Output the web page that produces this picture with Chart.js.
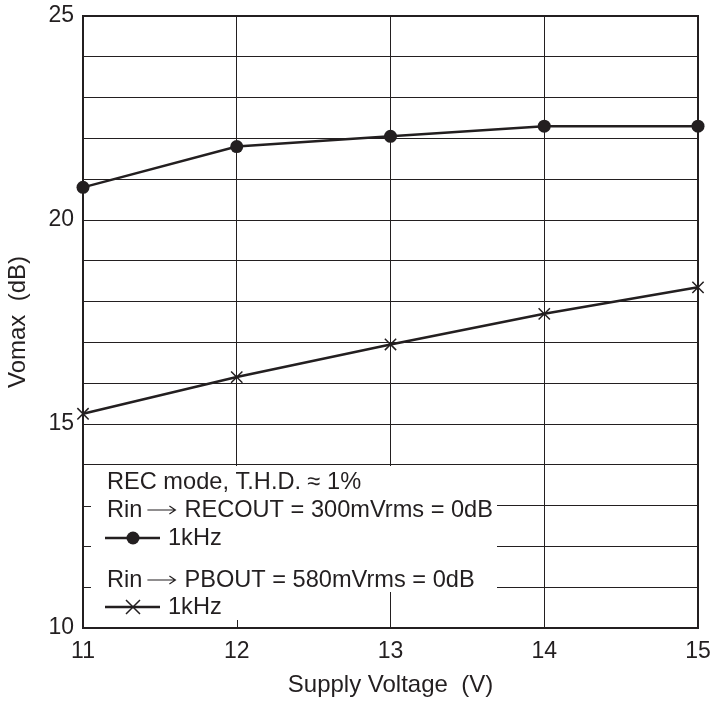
<!DOCTYPE html>
<html>
<head>
<meta charset="utf-8">
<script src="https://cdn.jsdelivr.net/npm/chart.js@4"></script>
<style>
  html, body { margin: 0; padding: 0; background: #fff; }
  #wrap { width: 711px; height: 704px; }
</style>
</head>
<body>
<div id="wrap"><canvas id="chart" width="711" height="704"></canvas></div>
<script>
// Supply voltage (V)
const voltages = [11, 12, 13, 14, 15];
// Rin -> RECOUT, 1kHz (dB)
const recout = [20.8, 21.8, 22.05, 22.3, 22.3];
// Rin -> PBOUT, 1kHz (dB)
const pbout = [15.25, 16.15, 16.95, 17.7, 18.35];
const yLabels = [10, 15, 20, 25];
const noteTitle = 'REC mode, T.H.D. \u2248 1%';
const noteRec = ['Rin', 'RECOUT = 300mVrms = 0dB'];
const notePb = ['Rin', 'PBOUT = 580mVrms = 0dB'];
const noteFreq = '1kHz';

const FONT = '"Liberation Sans", Arial, Helvetica, sans-serif';
const INK = '#231f20';

function toPoints(values) {
    return voltages.map((v, i) => ({ x: v, y: values[i] }));
}

// "Rin -> ..." with a drawn arrow
function arrowLine(ctx, parts, x, y) {
    ctx.fillText(parts[0], x, y);
    const a0 = x + ctx.measureText(parts[0]).width + 5;
    const a1 = a0 + 28;
    ctx.lineWidth = 1.2;
    ctx.beginPath();
    ctx.moveTo(a0, y);
    ctx.lineTo(a1, y);
    ctx.moveTo(a1 - 6, y - 4);
    ctx.lineTo(a1, y);
    ctx.lineTo(a1 - 6, y + 4);
    ctx.stroke();
    ctx.fillText(parts[1], a1 + 9, y);
}

// Frame and the boxed note in the lower left corner
const notePlugin = {
    id: 'note',
    afterDraw(chart) {
        const { ctx, chartArea: a, scales: { x, y } } = chart;
        ctx.save();

        // white box hiding the grid under the note
        const top = Math.round(y.getPixelForValue(14)) + 1;
        const mid = Math.round(y.getPixelForValue(11)) + 5;
        ctx.fillStyle = '#fff';
        ctx.fillRect(a.left + 1, top, 496 - a.left, mid - top);
        ctx.fillRect(a.left + 1, mid - 1, 300 - a.left, a.bottom - mid);

        // small inner ticks left visible
        ctx.strokeStyle = INK;
        ctx.lineWidth = 1;
        ctx.beginPath();
        [11, 12, 13].forEach(v => {
            const py = Math.round(y.getPixelForValue(v)) + 0.5;
            ctx.moveTo(a.left, py);
            ctx.lineTo(a.left + 8, py);
        });
        const px = Math.round(x.getPixelForValue(12)) + 0.5;
        ctx.moveTo(px, a.bottom);
        ctx.lineTo(px, a.bottom - 8);
        ctx.stroke();

        // frame
        ctx.lineWidth = 2;
        ctx.strokeRect(a.left, a.top, a.right - a.left, a.bottom - a.top);

        // note text
        ctx.fillStyle = INK;
        ctx.font = '23.6px ' + FONT;
        ctx.textBaseline = 'middle';
        const tx = 107;
        const rows = [482, 510, 538, 580, 607];
        ctx.fillText(noteTitle, tx, rows[0]);
        arrowLine(ctx, noteRec, tx, rows[1]);
        arrowLine(ctx, notePb, tx, rows[3]);
        ctx.fillText(noteFreq, 168, rows[2]);
        ctx.fillText(noteFreq, 168, rows[4]);

        // sample symbols
        ctx.lineWidth = 2.5;
        ctx.beginPath();
        ctx.moveTo(105, rows[2]); ctx.lineTo(160, rows[2]);
        ctx.moveTo(105, rows[4]); ctx.lineTo(160, rows[4]);
        ctx.stroke();
        ctx.beginPath();
        ctx.arc(133, rows[2], 6.5, 0, Math.PI * 2);
        ctx.fill();
        ctx.lineWidth = 1.5;
        ctx.beginPath();
        ctx.moveTo(126, rows[4] - 7); ctx.lineTo(140, rows[4] + 7);
        ctx.moveTo(140, rows[4] - 7); ctx.lineTo(126, rows[4] + 7);
        ctx.stroke();

        ctx.restore();
    }
};

new Chart(document.getElementById('chart'), {
    type: 'line',
    data: {
        datasets: [
            {
                label: 'RECOUT 1kHz',
                data: toPoints(recout),
                borderColor: INK,
                backgroundColor: INK,
                borderWidth: 2.5,
                pointStyle: 'circle',
                pointRadius: 6.5,
                pointBorderWidth: 0,
                tension: 0,
                clip: false
            },
            {
                label: 'PBOUT 1kHz',
                data: toPoints(pbout),
                borderColor: INK,
                backgroundColor: INK,
                borderWidth: 2.5,
                pointStyle: 'crossRot',
                pointRadius: 8,
                pointBorderWidth: 1.5,
                tension: 0,
                clip: false
            }
        ]
    },
    options: {
        responsive: false,
        animation: false,
        layout: { padding: { top: 16, right: 13, left: 0, bottom: 0 } },
        plugins: {
            legend: { display: false },
            tooltip: { enabled: false }
        },
        scales: {
            x: {
                type: 'linear',
                min: 11,
                max: 15,
                afterFit: s => {
                    s.height = 76;
                    s.paddingLeft = 0;
                    s.paddingRight = 0;
                },
                ticks: {
                    stepSize: 1,
                    color: INK,
                    padding: 10,
                    font: { family: FONT, size: 23 }
                },
                grid: { color: INK, lineWidth: 1, drawTicks: false },
                border: { display: false },
                title: {
                    display: true,
                    text: 'Supply Voltage  (V)',
                    color: INK,
                    padding: { top: 0 },
                    font: { family: FONT, size: 24 }
                }
            },
            y: {
                min: 10,
                max: 25,
                afterFit: s => {
                    s.width = 83;
                    s.paddingTop = 0;
                    s.paddingBottom = 0;
                },
                ticks: {
                    stepSize: 1,
                    color: INK,
                    padding: 9,
                    font: { family: FONT, size: 23 },
                    callback: v => yLabels.includes(v) ? v : ''
                },
                grid: { color: INK, lineWidth: 1, drawTicks: false },
                border: { display: false },
                title: {
                    display: true,
                    text: 'Vomax  (dB)',
                    color: INK,
                    padding: { bottom: 2 },
                    font: { family: FONT, size: 24 }
                }
            }
        }
    },
    plugins: [notePlugin]
});
</script>
</body>
</html>
